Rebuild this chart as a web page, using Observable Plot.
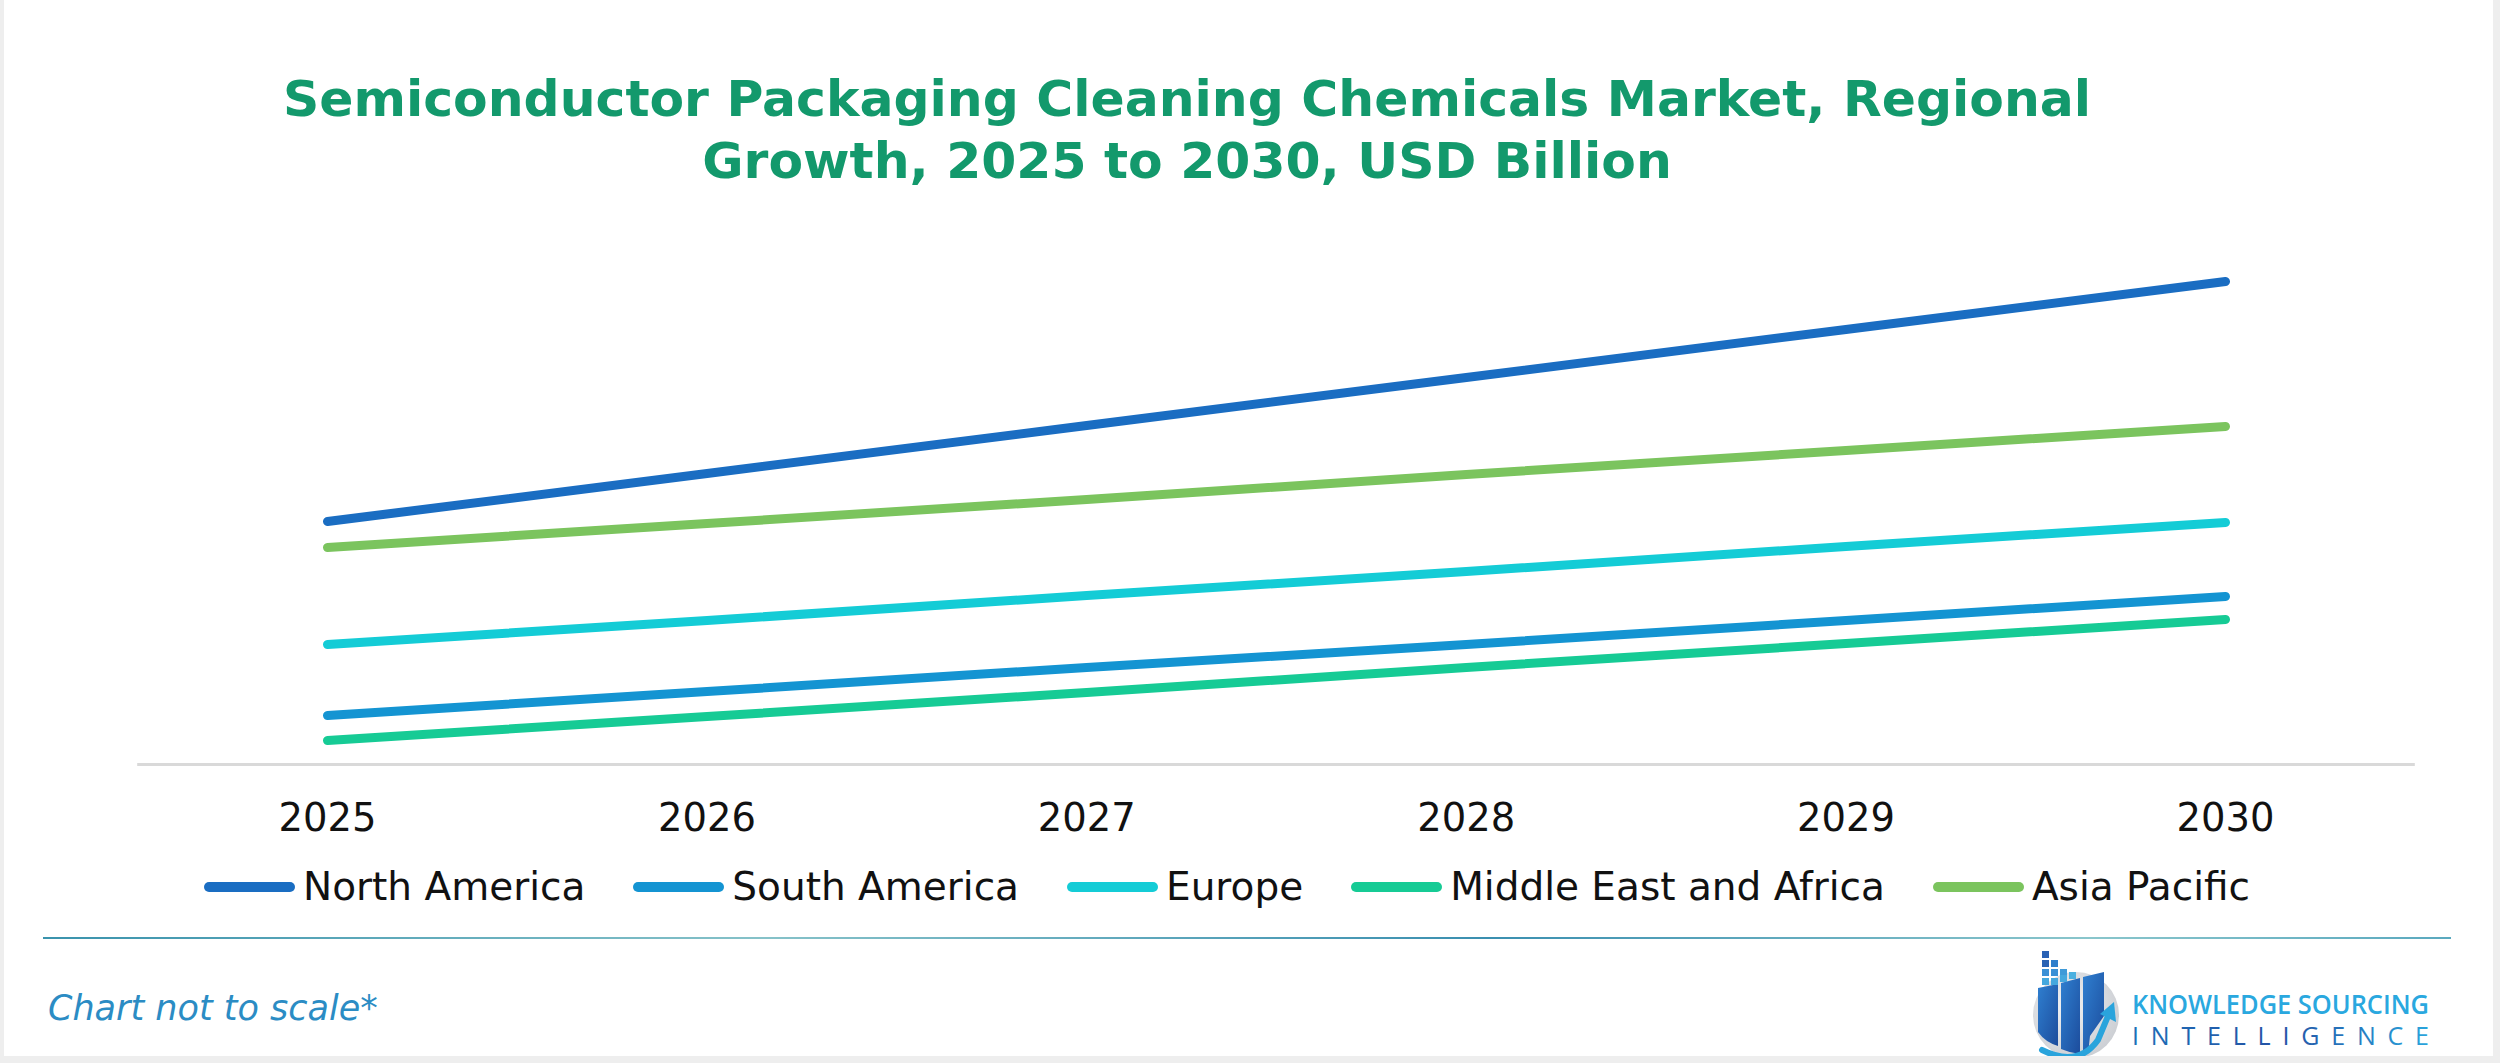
<!DOCTYPE html>
<html>
<head>
<meta charset="utf-8">
<script src="https://cdn.jsdelivr.net/npm/d3@7"></script>
<script src="https://cdn.jsdelivr.net/npm/@observablehq/plot@0.6"></script>
<style>
  html, body { margin: 0; padding: 0; background: #ffffff; }
  #page { position: relative; width: 2500px; height: 1063px; overflow: hidden; background: #ffffff; font-family: "DejaVu Sans", Verdana, sans-serif; }
  #frame { position: absolute; left: 0; top: 0; width: 2500px; height: 1063px; box-sizing: border-box; border-left: 4px solid #eeeeee; border-right: 7px solid #eeeeee; border-bottom: 7px solid #eeeeee; pointer-events: none; }
  #title { position: absolute; left: 0; top: 68px; width: 2374px; text-align: center; font-family: "DejaVu Sans", sans-serif; font-weight: bold; font-size: 50.4px; line-height: 62px; color: #13996c; white-space: nowrap; }
  #chart { position: absolute; left: 0; top: 200px; }
  #legend { position: absolute; left: 204px; top: 868px; display: flex; align-items: center; gap: 48px; font-family: "DejaVu Sans", sans-serif; font-size: 39px; line-height: 38px; color: #111111; white-space: nowrap; }
  .item { display: flex; align-items: center; gap: 8px; }
  .sw { width: 91px; height: 10px; border-radius: 5px; }
  #divider { position: absolute; left: 43px; top: 937px; width: 2408px; height: 2px; background: linear-gradient(90deg, #3a93ad 0%, #86c2c9 30%, #3a8fb0 60%, #8ac6cc 85%, #5aa9bf 100%); }
  #note { position: absolute; left: 48px; top: 990px; font-family: "DejaVu Sans", sans-serif; font-style: italic; font-size: 35px; line-height: 36px; color: #2b8cc4; white-space: nowrap; }
  #logo { position: absolute; left: 2028px; top: 944px; }
</style>
</head>
<body>
<div id="page">
  <div id="title">Semiconductor Packaging Cleaning Chemicals Market, Regional<br>Growth, 2025 to 2030, USD Billion</div>
  <div id="chart"></div>
  <div id="legend"></div>
  <div id="divider"></div>
  <div id="note">Chart not to scale*</div>
  <svg id="logo" width="420" height="119" viewBox="0 0 420 119">
    <defs>
      <radialGradient id="gcircle" cx="0.4" cy="0.4" r="0.7">
        <stop offset="0" stop-color="#f1f2f4"/>
        <stop offset="1" stop-color="#c9ccd1"/>
      </radialGradient>
      <linearGradient id="gbars" x1="0" y1="0" x2="1" y2="1">
        <stop offset="0" stop-color="#2f7fd0"/>
        <stop offset="1" stop-color="#1c4c9c"/>
      </linearGradient>
      <linearGradient id="gint" x1="0" y1="0" x2="1" y2="0">
        <stop offset="0" stop-color="#1d6fb8"/>
        <stop offset="0.5" stop-color="#2452a4"/>
        <stop offset="1" stop-color="#2aa4dc"/>
      </linearGradient>
    </defs>
    <circle cx="48" cy="71" r="43" fill="url(#gcircle)"/>
    <path d="M10 44 L30 40 L30 102 Q17 98 10 88 Z" fill="url(#gbars)"/>
    <path d="M33 39 L52 34 L52 110 Q42 109 33 105 Z" fill="url(#gbars)"/>
    <path d="M55 33 L76 28 L76 72 L62 92 L60 110 Q57 110 55 110 Z" fill="url(#gbars)"/>
    <g fill="#2a62b4">
      <rect x="14" y="7" width="7" height="7"/>
      <rect x="14" y="16" width="7" height="7"/><rect x="23" y="16" width="7" height="7" fill="#2f7fcc"/>
      <rect x="14" y="25" width="7" height="7" fill="#3a90d6"/><rect x="23" y="25" width="7" height="7" fill="#3a90d6"/><rect x="32" y="25" width="7" height="7" fill="#3f9ad8"/>
      <rect x="14" y="34" width="7" height="7" fill="#45a8de"/><rect x="23" y="34" width="7" height="7" fill="#45a8de"/><rect x="32" y="31" width="7" height="7" fill="#45a8de"/><rect x="41" y="28" width="7" height="7" fill="#4ab0e0"/>
    </g>
    <path d="M14 106 Q50 124 70 96 L80 72" fill="none" stroke="#2aa4dc" stroke-width="6" stroke-linecap="round"/>
    <path d="M72 70 L86 58 L88 78 Z" fill="#2aa4dc"/>
    <text x="104" y="70" textLength="297" lengthAdjust="spacingAndGlyphs" font-family="'Open Sans', sans-serif" font-weight="600" font-size="27" fill="#2aa8df">KNOWLEDGE SOURCING</text>
    <text x="104" y="101" textLength="297" lengthAdjust="spacing" font-family="'Open Sans', sans-serif" font-weight="400" font-size="25" fill="url(#gint)">INTELLIGENCE</text>
  </svg>
  <div id="frame"></div>
</div>
<script>
// ---- Data (chart is "not to scale") ----
const years = [2025, 2026, 2027, 2028, 2029, 2030];
const regions = ["North America", "South America", "Europe", "Middle East and Africa", "Asia Pacific"];
const regionColors = ["#1a6dc2", "#1494d2", "#14ccd6", "#16cb95", "#7bc45e"];
const northAmerica = [2.43, 2.91, 3.39, 3.87, 4.35, 4.83];
const southAmerica = [0.49, 0.73, 0.97, 1.20, 1.44, 1.68];
const europe = [1.20, 1.44, 1.69, 1.93, 2.18, 2.42];
const middleEastAfrica = [0.24, 0.48, 0.72, 0.97, 1.21, 1.45];
const asiaPacific = [2.17, 2.41, 2.65, 2.90, 3.14, 3.38];
const axisFrom = 2024.5;
const axisTo = 2030.5;

const seriesByRegion = {
  "North America": northAmerica,
  "South America": southAmerica,
  "Europe": europe,
  "Middle East and Africa": middleEastAfrica,
  "Asia Pacific": asiaPacific
};
const table = [];
for (const r of regions) {
  seriesByRegion[r].forEach((v, i) => table.push({region: r, year: years[i], value: v}));
}

const chart = Plot.plot({
  width: 2500,
  height: 650,
  marginLeft: 327,
  marginRight: 275,
  marginTop: 0,
  marginBottom: 86,
  style: {fontFamily: "DejaVu Sans, sans-serif", fontSize: "38px", background: "transparent", overflow: "visible"},
  x: {type: "linear", domain: [2025, 2030]},
  y: {domain: [0, 5.64], axis: null},
  color: {domain: regions, range: regionColors},
  marks: [
    Plot.ruleY([{y: 0, x1: axisFrom, x2: axisTo}], {y: "y", x1: "x1", x2: "x2", stroke: "#d9d9d9", strokeWidth: 3}),
    Plot.lineY(table, {x: "year", y: "value", z: "region", stroke: "region", strokeWidth: 9, strokeLinecap: "round", strokeLinejoin: "round"}),
    Plot.axisX({ticks: years, tickFormat: d => String(d), tickSize: 0, tickPadding: 39, fontSize: 38.5, fill: "#111111"})
  ]
});
document.getElementById("chart").appendChild(chart);

const legend = document.getElementById("legend");
regions.forEach((r, i) => {
  const item = document.createElement("div");
  item.className = "item";
  const sw = document.createElement("div");
  sw.className = "sw";
  sw.style.background = regionColors[i];
  const label = document.createElement("span");
  label.textContent = r;
  item.appendChild(sw);
  item.appendChild(label);
  legend.appendChild(item);
});
</script>
</body>
</html>
